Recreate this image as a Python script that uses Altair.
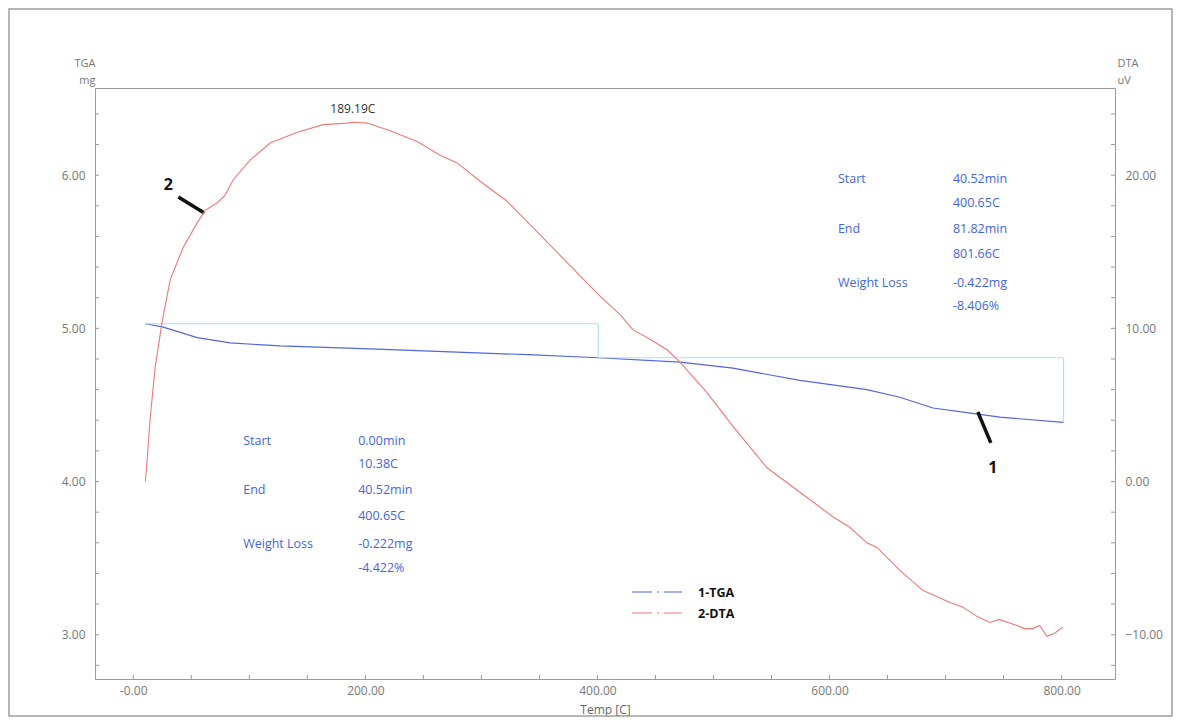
import altair as alt
import pandas as pd

# ---------------- data ----------------
# DTA curve: temperature (C) and signal (uV)
dta_temp = [10.4, 12.0, 14.6, 18.9, 25.0, 31.9, 43.1, 55.1, 62.0, 72.4, 79.2, 86.1,
            100.8, 118.0, 141.3, 163.7, 184.3, 189.2, 201.6, 221.4, 244.6, 264.4,
            279.1, 298.9, 322.1, 350.6, 379.0, 402.2, 419.5, 430.7, 445.0, 460.0,
            471.1, 494.4, 516.8, 546.1, 574.5, 602.9, 617.6, 632.2, 640.8, 660.6,
            680.4, 703.7, 715.0, 727.0, 738.2, 746.0, 761.4, 768.0, 775.2, 781.0,
            787.3, 794.0, 801.0]
dta_uv = [0.0, 1.5, 4.2, 7.5, 10.5, 13.2, 15.3, 16.9, 17.7, 18.2, 18.7, 19.7,
          21.0, 22.1, 22.8, 23.3, 23.4, 23.45, 23.4, 22.9, 22.2, 21.3,
          20.8, 19.6, 18.3, 16.1, 13.9, 12.1, 10.9, 9.9, 9.3, 8.6,
          7.8, 5.8, 3.6, 0.9, -0.7, -2.3, -3.0, -4.0, -4.3, -5.8,
          -7.1, -7.9, -8.2, -8.8, -9.2, -9.0, -9.4, -9.6, -9.6, -9.4,
          -10.1, -9.9, -9.5]

# TGA curve: temperature (C) and mass (mg)
tga_temp = [10.4, 25.0, 55.1, 83.5, 126.6, 204.1, 273.0, 340.0, 400.65, 471.1,
            516.8, 574.5, 632.2, 660.6, 689.1, 718.4, 746.8, 801.66]
tga_mg = [5.03, 5.01, 4.94, 4.905, 4.885, 4.866, 4.846, 4.828, 4.808, 4.78,
          4.74, 4.66, 4.60, 4.55, 4.48, 4.45, 4.42, 4.386]

# weight-loss steps
step_start_t = [10.38, 400.65]
step_end_t = [400.65, 801.66]
step_start_mg = [5.030, 4.808]
step_end_mg = [4.808, 4.386]

# annotation blocks
ann_text = ["Start", "40.52min", "400.65C", "End", "81.82min", "801.66C",
            "Weight Loss", "-0.422mg", "-8.406%",
            "Start", "0.00min", "10.38C", "End", "40.52min", "400.65C",
            "Weight Loss", "-0.222mg", "-4.422%"]
ann_t = [607.2, 706.3, 706.3, 607.2, 706.3, 706.3, 607.2, 706.3, 706.3,
         94.7, 193.8, 193.8, 94.7, 193.8, 193.8, 94.7, 193.8, 193.8]
ann_mg = [5.975, 5.975, 5.819, 5.649, 5.649, 5.486, 5.296, 5.296, 5.146,
          4.265, 4.265, 4.115, 3.945, 3.945, 3.775, 3.593, 3.593, 3.436]

peak_t = [189.19]
peak_uv = [23.45]
peak_label = ["189.19C"]

# curve markers "1" and "2"
marker_label = ["2", "1"]
marker_t1 = [38.8, 727.8]
marker_mg1 = [5.858, 4.454]
marker_t2 = [61.2, 739.0]
marker_mg2 = [5.753, 4.252]
marker_text_t = [30.1, 740.7]
marker_text_mg = [5.936, 4.089]

legend_labels = ["1-TGA", "2-DTA"]

x_ticks = [0, 200, 400, 600, 800]
x_minor = [0, 50, 100, 150, 200, 250, 300, 350, 400, 450, 500, 550, 600, 650, 700, 750, 800]
tga_ticks = [3, 4, 5, 6]
tga_minor = [2.8, 3.0, 3.2, 3.4, 3.6, 3.8, 4.0, 4.2, 4.4, 4.6, 4.8, 5.0, 5.2, 5.4,
             5.6, 5.8, 6.0, 6.2, 6.4]
dta_ticks = [-10, 0, 10, 20]
dta_minor = [-12, -10, -8, -6, -4, -2, 0, 2, 4, 6, 8, 10, 12, 14, 16, 18, 20, 22, 24]

# ---------------- styling ----------------
W, H = 1020, 591
FONT = "Open Sans"
TGA_COLOR = "#5366dc"
DTA_COLOR = "#f07878"
BOX_COLOR = "#a8e2f2"
ANN_COLOR = "#4466dd"
AX_COLOR = "#9a9a9a"
LBL_COLOR = "#777777"

x_scale = alt.Scale(domain=[-33, 846], nice=False, zero=False)
tga_scale = alt.Scale(domain=[2.711, 6.569], nice=False, zero=False)
dta_scale = alt.Scale(domain=[-12.89, 25.69], nice=False, zero=False)

x_axis = alt.Axis(values=x_ticks, ticks=False, grid=False, domainColor=AX_COLOR,
                  labelExpr="datum.value == 0 ? '-0.00' : format(datum.value, '.2f')",
                  labelColor=LBL_COLOR, labelFont=FONT, labelFontSize=12, labelPadding=6,
                  title="Temp  [C]", titleColor="#666666", titleFont=FONT,
                  titleFontSize=12, titleFontWeight="normal", titlePadding=8)
tga_axis = alt.Axis(values=tga_ticks, format=".2f", ticks=False, grid=False, orient="left",
                    domainColor=AX_COLOR, labelColor=LBL_COLOR, labelFont=FONT,
                    labelFontSize=12, labelPadding=10, title=["TGA", "mg"],
                    titleAngle=0, titleX=0, titleY=-20, titleAlign="right",
                    titleBaseline="bottom", titleColor=LBL_COLOR, titleFont=FONT,
                    titleFontSize=11, titleFontWeight="normal", titleLineHeight=17)
dta_axis = alt.Axis(values=dta_ticks, format=".2f", ticks=False, grid=False, orient="right",
                    domainColor=AX_COLOR, labelColor=LBL_COLOR, labelFont=FONT,
                    labelFontSize=12, labelPadding=10, title=["DTA", "uV"],
                    titleAngle=0, titleX=2, titleY=-20, titleAlign="left",
                    titleBaseline="bottom", titleColor=LBL_COLOR, titleFont=FONT,
                    titleFontSize=11, titleFontWeight="normal", titleLineHeight=17)

# ---------------- tables ----------------
dta_df = pd.DataFrame({"t": dta_temp, "uv": dta_uv})
tga_df = pd.DataFrame({"t": tga_temp, "mg": tga_mg})

seg_rows = []
for a, b, c, d in zip(step_start_t, step_end_t, step_start_mg, step_end_mg):
    seg_rows.append({"x": a, "x2": b, "y": c, "y2": c})
    seg_rows.append({"x": b, "x2": b, "y": c, "y2": d})
seg_df = pd.DataFrame(seg_rows)

ann_df = pd.DataFrame({"text": ann_text, "t": ann_t, "mg": ann_mg})
peak_df = pd.DataFrame({"t": peak_t, "uv": peak_uv, "label": peak_label})
mark_df = pd.DataFrame({"label": marker_label, "x": marker_t1, "y": marker_mg1,
                        "x2": marker_t2, "y2": marker_mg2,
                        "tx": marker_text_t, "ty": marker_text_mg})

# every encoding on a shared scale carries the same axis definition
xn = lambda f: alt.X(f, type="quantitative", scale=x_scale, axis=x_axis)
yt = lambda f: alt.Y(f, type="quantitative", scale=tga_scale, axis=tga_axis)
yd = lambda f: alt.Y(f, type="quantitative", scale=dta_scale, axis=dta_axis)

# ---------------- TGA side ----------------
tga_line = alt.Chart(tga_df).mark_line(color=TGA_COLOR, strokeWidth=1.2).encode(
    x=xn("t"), y=yt("mg"))
steps = alt.Chart(seg_df).mark_rule(color=BOX_COLOR, strokeWidth=1.2).encode(
    x=xn("x"), x2="x2", y=yt("y"), y2="y2")
ann = alt.Chart(ann_df).mark_text(align="left", baseline="middle", font=FONT,
                                  fontSize=12.5, color=ANN_COLOR).encode(
    x=xn("t"), y=yt("mg"), text="text:N")
mk_lines = alt.Chart(mark_df).mark_rule(color="#111111", strokeWidth=3.5).encode(
    x=xn("x"), x2="x2", y=yt("y"), y2="y2")
mk_text = alt.Chart(mark_df).mark_text(font=FONT, fontSize=16, fontWeight="bold",
                                       color="#111111", baseline="middle").encode(
    x=xn("tx"), y=yt("ty"), text="label:N")
x_tick_rules = alt.Chart(pd.DataFrame({"t": x_minor})).mark_rule(color=AX_COLOR).encode(
    x=xn("t"), y=alt.value(H), y2=alt.value(H - 4))
tga_tick_rules = alt.Chart(pd.DataFrame({"v": tga_minor})).mark_rule(color=AX_COLOR).encode(
    y=yt("v"), x=alt.value(0), x2=alt.value(4))

one = alt.Data(values=[{"k": 1}])
frame = alt.Chart(one).mark_rect(filled=False, stroke="#a0a0a0", strokeWidth=1.5).encode(
    x=alt.value(-86), x2=alt.value(1077), y=alt.value(-79), y2=alt.value(628))

legend_layers = []
for lab, col, ypix in zip(legend_labels, [TGA_COLOR, DTA_COLOR], [504, 525]):
    legend_layers.append(alt.Chart(one).mark_rule(color=col, strokeWidth=1.2,
                                                  strokeDash=[20, 5, 2, 5]).encode(
        x=alt.value(537), x2=alt.value(587), y=alt.value(ypix)))
    legend_layers.append(alt.Chart(one).mark_text(text=lab, align="left", baseline="middle",
                                                  font=FONT, fontSize=12.5,
                                                  fontWeight="bold", color="#111111").encode(
        x=alt.value(603), y=alt.value(ypix + 1)))

tga_side = alt.layer(tga_line, steps, ann, mk_lines, mk_text,
                     x_tick_rules, tga_tick_rules, frame, *legend_layers)

# ---------------- DTA side ----------------
dta_line = alt.Chart(dta_df).mark_line(color=DTA_COLOR, strokeWidth=1.1).encode(
    x=xn("t"), y=yd("uv"))
peak = alt.Chart(peak_df).mark_text(font=FONT, fontSize=12, color="#333333",
                                    baseline="bottom", dy=-6).encode(
    x=xn("t"), y=yd("uv"), text="label:N")
dta_tick_rules = alt.Chart(pd.DataFrame({"v": dta_minor})).mark_rule(color=AX_COLOR).encode(
    y=yd("v"), x=alt.value(W), x2=alt.value(W - 4))

dta_side = alt.layer(dta_line, peak, dta_tick_rules)

chart = alt.layer(tga_side, dta_side).resolve_scale(y="independent").properties(
    width=W, height=H,
    autosize=alt.AutoSizeParams(type="none"),
    padding={"left": 87, "top": 80, "right": 58, "bottom": 39},
    background="white",
).configure_view(stroke=AX_COLOR, strokeWidth=1)

chart.save("out.html", embed_options={"renderer": "svg", "actions": False})
